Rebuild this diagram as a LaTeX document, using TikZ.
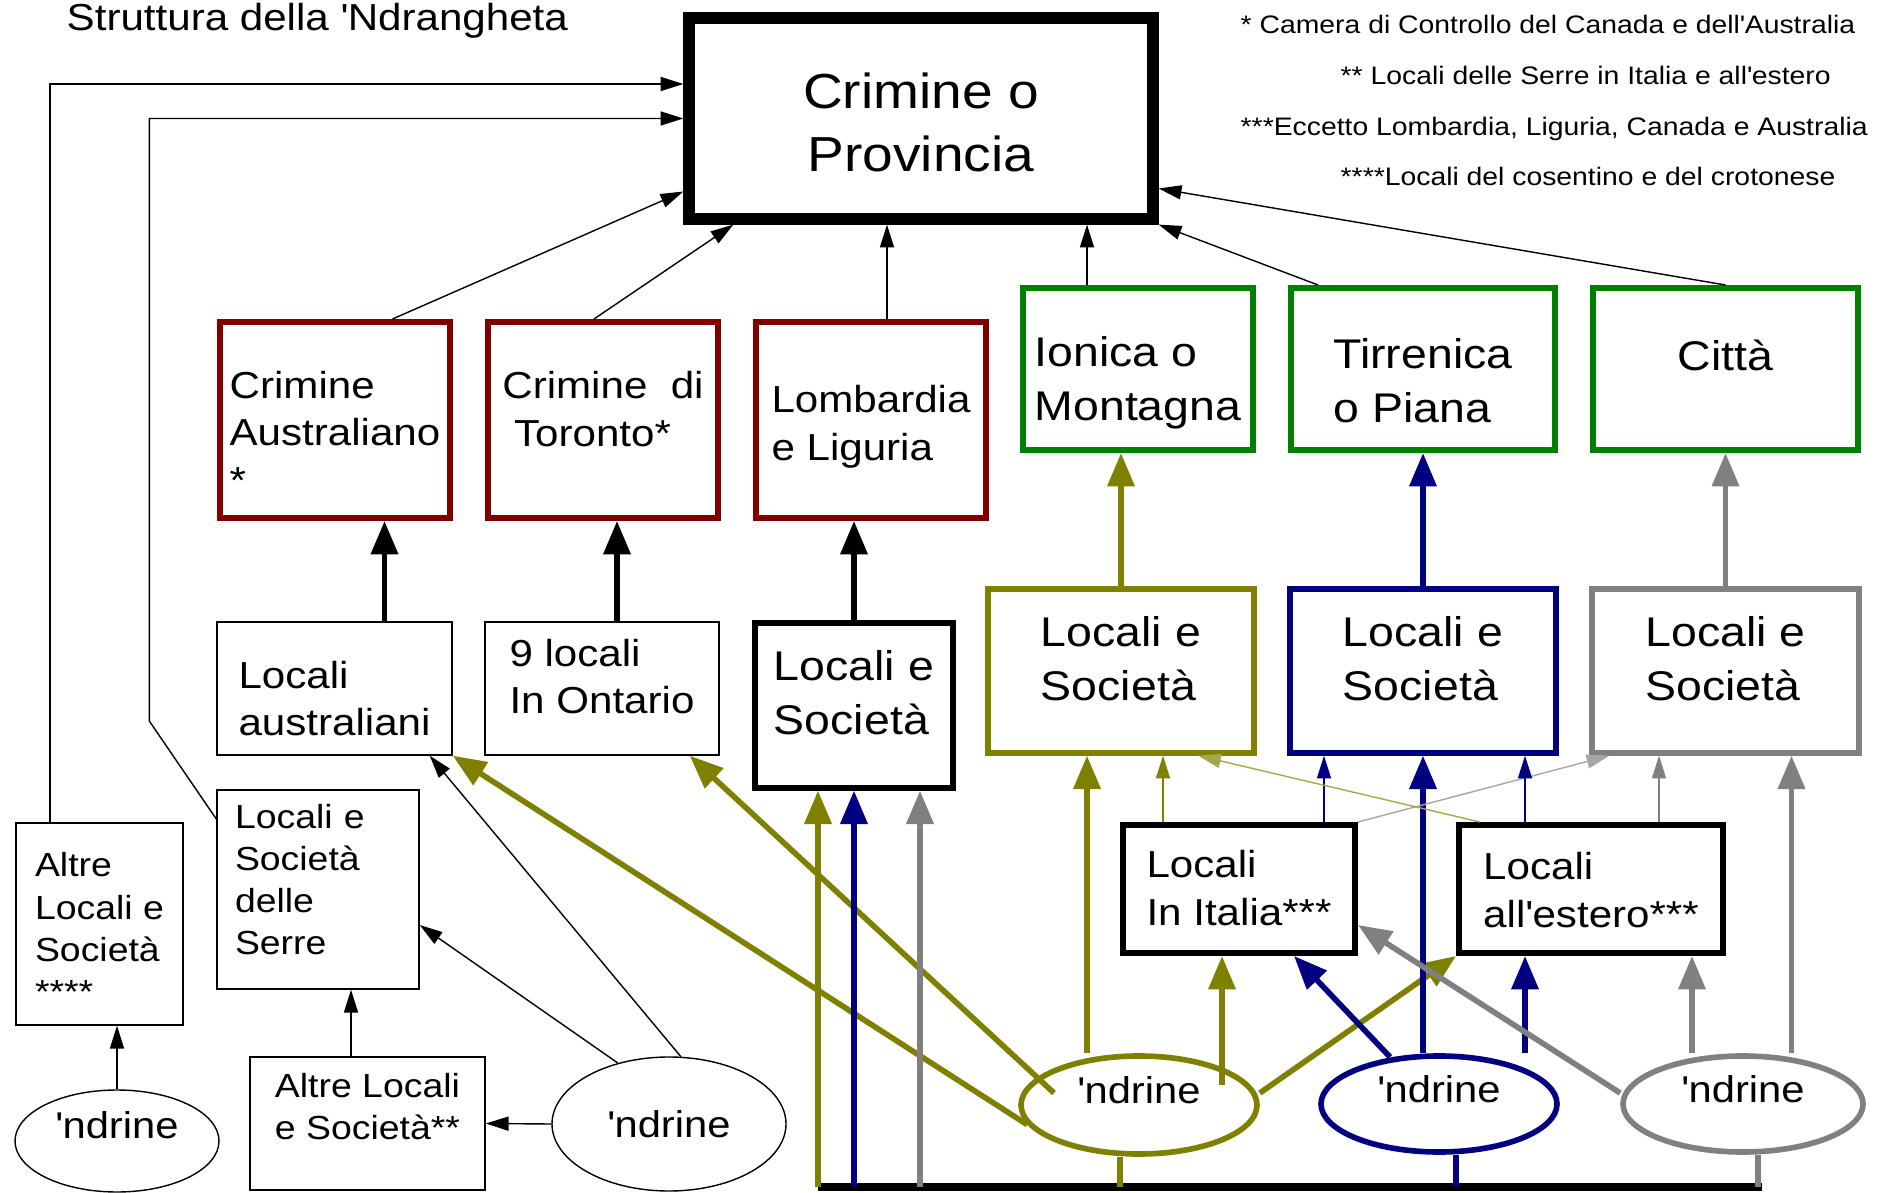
\documentclass[tikz,border=0pt]{standalone}
\usepackage{fontspec}
\setmainfont[FakeStretch=1.12]{Liberation Sans}
\usepackage{tikz}
\usetikzlibrary{positioning}
\usepackage{xcolor}
\usetikzlibrary{calc}
\usetikzlibrary{arrows.meta, shapes.geometric}

\definecolor{crimred}{RGB}{128,0,0}
\definecolor{mandgreen}{RGB}{0,128,0}
\definecolor{ionolive}{RGB}{128,128,0}
\definecolor{tirnavy}{RGB}{0,0,128}
\definecolor{citgray}{RGB}{128,128,128}
\newcommand{\ap}{\textquotesingle}

\tikzset{
  box/.style={draw, rectangle, align=left, inner sep=0pt},
  thinbox/.style={box, line width=0.4pt},
  redbox/.style={box, draw=crimred, line width=1.7pt},
  greenbox/.style={box, draw=mandgreen, line width=1.7pt},
  fcrim/.style={font=\fontsize{14pt}{18pt}\selectfont},
  fbig/.style={font=\fontsize{11.8pt}{15.3pt}\selectfont},
  fmed/.style={font=\fontsize{10.7pt}{13.5pt}\selectfont},
  fsmall/.style={font=\fontsize{9.5pt}{12pt}\selectfont},
  fnd/.style={font=\fontsize{10.6pt}{12pt}\selectfont},
  fleg/.style={font=\fontsize{7.2pt}{9pt}\selectfont, inner sep=0pt, anchor=base west},
  ndr/.style={ellipse, draw, inner sep=0pt},
  thinarr/.style={-{Triangle[length=6.5pt,width=4pt]}, line width=0.4pt},
  fatarr/.style={-{Triangle[length=9.5pt,width=7.5pt]}, line width=1.6pt}
}

\begin{document}
\begin{tikzpicture}[line join=miter]
    \useasboundingbox (0,0) rectangle (18.79,-11.93);

    % title and notes
    \node[font=\fontsize{10.7pt}{13pt}\selectfont, inner sep=0pt, anchor=base west] (title) at (0.66,-0.31) {Struttura della \ap Ndrangheta};
    \node[fleg] (leg1) at (12.40,-0.34) {* Camera di Controllo del Canada e dell\ap Australia};
    \node[fleg] (leg2) at (13.40,-0.85) {** Locali delle Serre in Italia e all\ap estero};
    \node[fleg] (leg3) at (12.40,-1.36) {***Eccetto Lombardia, Liguria, Canada e Australia};
    \node[fleg] (leg4) at (13.40,-1.86) {****Locali del cosentino e del crotonese};

    % top
    \node[box, line width=3.2pt, minimum width=4.64cm, minimum height=2.01cm,
          label={[fcrim, align=center, yshift=-0.04cm]center:Crimine o\\Provincia}] (crim) at (9.21,-1.185) {};

    % crimini and mandamenti
    \node[redbox, minimum width=2.30cm, minimum height=1.96cm,
          label={[fmed, align=left, yshift=-0.12cm]center:Crimine\\Australiano\\*}] (aus) at (3.35,-4.20) {};
    \node[redbox, minimum width=2.30cm, minimum height=1.96cm,
          label={[fmed, align=left, yshift=0.11cm]center:Crimine\ \ di\\\ Toronto*}] (tor) at (6.03,-4.20) {};
    \node[redbox, minimum width=2.30cm, minimum height=1.96cm,
          label={[fmed, align=left, yshift=-0.07cm]center:Lombardia\\e Liguria}] (lom) at (8.71,-4.20) {};
    \node[greenbox, minimum width=2.30cm, minimum height=1.62cm,
          label={[fbig, align=left, yshift=-0.14cm]center:Ionica o\\Montagna}] (ion) at (11.38,-3.69) {};
    \node[greenbox, minimum width=2.64cm, minimum height=1.62cm,
          label={[fbig, align=left, yshift=-0.12cm]center:Tirrenica\\o Piana}] (tir) at (14.23,-3.69) {};
    \node[greenbox, minimum width=2.65cm, minimum height=1.62cm,
          label={[fbig, yshift=0.14cm]center:Città}] (cit) at (17.255,-3.69) {};

    % locali
    \node[thinbox, minimum width=2.35cm, minimum height=1.33cm,
          label={[fmed, align=left, yshift=-0.10cm]center:Locali\\australiani}] (locaus) at (3.345,-6.885) {};
    \node[thinbox, minimum width=2.34cm, minimum height=1.33cm,
          label={[fmed, align=left, yshift=0.12cm]center:9 locali\\In Ontario}] (locont) at (6.02,-6.885) {};
    \node[box, line width=1.5pt, minimum width=1.98cm, minimum height=1.65cm,
          label={[fbig, align=left, yshift=0.13cm]center:Locali e\\Società}] (loclom) at (8.54,-7.055) {};
    \node[box, draw=ionolive, line width=1.5pt, minimum width=2.66cm, minimum height=1.64cm,
          label={[fbig, align=left, yshift=0.12cm]center:Locali e\\Società}] (locion) at (11.21,-6.71) {};
    \node[box, draw=tirnavy, line width=1.5pt, minimum width=2.66cm, minimum height=1.64cm,
          label={[fbig, align=left, yshift=0.12cm]center:Locali e\\Società}] (loctir) at (14.23,-6.71) {};
    \node[box, draw=citgray, line width=1.5pt, minimum width=2.67cm, minimum height=1.64cm,
          label={[fbig, align=left, yshift=0.12cm]center:Locali e\\Società}] (loccit) at (17.255,-6.71) {};

    \node[thinbox, minimum width=1.67cm, minimum height=2.02cm,
          label={[fsmall, align=left, yshift=-0.04cm]center:Altre\\Locali e\\Società\\****}] (altre) at (0.995,-9.24) {};
    \node[thinbox, minimum width=2.02cm, minimum height=1.99cm,
          label={[fsmall, align=left, text width=1.66cm, yshift=0.10cm]center:Locali e\\Società\\delle\\Serre}] (serre) at (3.18,-8.895) {};
    \node[thinbox, minimum width=2.35cm, minimum height=1.33cm,
          label={[fsmall, align=left, yshift=0.17cm]center:Altre Locali\\e Società**}] (altreser) at (3.675,-11.235) {};
    \node[box, line width=1.7pt, minimum width=2.32cm, minimum height=1.28cm,
          label={[fmed, align=left, yshift=0.01cm]center:Locali\\In Italia***}] (locita) at (12.39,-8.89) {};
    \node[box, line width=1.7pt, minimum width=2.64cm, minimum height=1.28cm,
          label={[fmed, align=left, yshift=-0.01cm]center:Locali\\all\ap estero***}] (locest) at (15.91,-8.89) {};

    % 'ndrine
    \node[ndr, line width=0.4pt, minimum width=2.04cm, minimum height=1.02cm,
          label={[fnd, yshift=0.16cm]center:\ap ndrine}] (ndr1) at (1.17,-11.41) {};
    \node[ndr, line width=0.4pt, minimum width=2.34cm, minimum height=1.34cm,
          label={[fnd]center:\ap ndrine}] (ndr2) at (6.69,-11.24) {};
    \node[ndr, draw=ionolive, line width=1.6pt, minimum width=2.36cm, minimum height=0.98cm,
          label={[fnd, yshift=0.15cm]center:\ap ndrine}] (ndr3) at (11.39,-11.05) {};
    \node[ndr, draw=tirnavy, line width=1.6pt, minimum width=2.36cm, minimum height=0.96cm,
          label={[fnd, yshift=0.15cm]center:\ap ndrine}] (ndr4) at (14.39,-11.04) {};
    \node[ndr, draw=citgray, line width=1.6pt, minimum width=2.40cm, minimum height=0.96cm,
          label={[fnd, yshift=0.15cm]center:\ap ndrine}] (ndr5) at (17.43,-11.04) {};

    % into the provincia
    \draw[thinarr] ([xshift=-0.495cm]altre.north) |- ([yshift=0.345cm]crim.west);
    \draw[thinarr] ([yshift=0.705cm]serre.west) -- ++(-0.67,0.98) |- (crim.west);
    \draw[thinarr] ([xshift=0.575cm]aus.north) -- ([yshift=-0.73cm]crim.west);
    \draw[thinarr] ([xshift=-0.09cm]tor.north) -- ([xshift=0.5cm]crim.south west);
    \draw[thinarr] ([xshift=0.16cm]lom.north) -- ([xshift=0.16cm]lom.north |- crim.south);
    \draw[thinarr] ([xshift=-0.51cm]ion.north) -- ([xshift=-0.51cm]ion.north |- crim.south);
    \draw[thinarr] ([xshift=-1.05cm]tir.north) -- (crim.south east);
    \draw[thinarr] (cit.north) -- ([yshift=-0.7cm]crim.east);

    % locali up to crimini / mandamenti
    \draw[fatarr] ([xshift=0.5cm]locaus.north) -- ([xshift=0.5cm]locaus.north |- aus.south);
    \draw[fatarr] ([xshift=0.15cm]locont.north) -- ([xshift=0.15cm]locont.north |- tor.south);
    \draw[fatarr] (loclom.north) -- (loclom.north |- lom.south);
    \draw[fatarr, ionolive] (locion.north) -- (locion.north |- ion.south);
    \draw[fatarr, tirnavy] (loctir.north) -- (loctir.north |- tir.south);
    \draw[fatarr, citgray] (loccit.north) -- (loccit.north |- cit.south);

    % serre side
    \draw[thinarr] (ndr1.north) -- (ndr1.north |- altre.south);
    \draw[thinarr] ([xshift=-0.165cm]altreser.north) -- ([xshift=-0.165cm]altreser.north |- serre.south);
    \draw[thinarr] (ndr2.west) -- (altreser.east);
    \draw[thinarr] (ndr2.130) -- ([yshift=-0.355cm]serre.east);
    \draw[thinarr] (ndr2.80) -- ([xshift=-0.23cm]locaus.south east);

    % ionica 'ndrine
    \draw[fatarr, ionolive] (ndr3.190) -- (locaus.south east);
    \draw[fatarr, ionolive] ($(ndr3.center)+(-0.85,0.12)$) -- ([xshift=-0.30cm]locont.south east);
    \draw[fatarr, ionolive] ([xshift=-0.34cm]locion.south |- ndr3.north) -- ([xshift=-0.34cm]locion.south);
    \draw[fatarr, ionolive] ([xshift=-0.17cm,yshift=-0.32cm]locita.south |- ndr3.north) -- ([xshift=-0.17cm]locita.south);
    \draw[fatarr, ionolive] ([yshift=0.12cm]ndr3.east) -- (locest.south west);

    % tirrenica 'ndrine
    \draw[fatarr, tirnavy] ($(ndr4.center)+(-0.49,0.47)$) -- ([xshift=0.55cm]locita.south);
    \draw[fatarr, tirnavy] (ndr4.north -| loctir.south) -- (loctir.south);
    \draw[fatarr, tirnavy] ([xshift=-0.66cm]locest.south |- ndr4.north) -- ([xshift=-0.66cm]locest.south);

    % citta 'ndrine
    \draw[fatarr, citgray] ([yshift=0.11cm]ndr5.west) -- ([yshift=-0.36cm]locita.east);
    \draw[fatarr, citgray] ([xshift=1.01cm]locest.south |- ndr5.north) -- ([xshift=1.01cm]locest.south);
    \draw[fatarr, citgray] ([xshift=0.66cm]loccit.south |- ndr5.north) -- ([xshift=0.66cm]loccit.south);

    % locali in italia / all'estero
    \draw[thinarr, ionolive] ([xshift=-0.76cm]locita.north) -- ([xshift=-0.76cm]locita.north |- locion.south);
    \draw[thinarr, tirnavy] ([xshift=0.85cm]locita.north) -- ([xshift=0.85cm]locita.north |- loctir.south);
    \draw[thinarr, citgray!70] (locita.north east) -- ([xshift=0.2cm]loccit.south west);
    \draw[thinarr, ionolive!70] ([xshift=0.24cm]locest.north west) -- ([xshift=0.77cm]locion.south);
    \draw[thinarr, tirnavy] ([xshift=-0.66cm]locest.north) -- ([xshift=-0.66cm]locest.north |- loctir.south);
    \draw[thinarr, citgray] ([xshift=0.68cm]locest.north) -- ([xshift=0.68cm]locest.north |- loccit.south);

    % bottom bus into lombardia
    \coordinate (busL) at (8.18,-11.87);
    \coordinate (busR) at (17.62,-11.87);
    \draw[line width=2.4pt] (busL) -- (busR);
    \draw[line width=1.6pt, ionolive] ([xshift=-0.19cm]ndr3.south) -- ([xshift=-0.19cm]ndr3.south |- busL);
    \draw[line width=1.6pt, tirnavy] ([xshift=0.17cm]ndr4.south) -- ([xshift=0.17cm]ndr4.south |- busL);
    \draw[line width=1.6pt, citgray] ([xshift=0.15cm]ndr5.south) -- ([xshift=0.15cm]ndr5.south |- busL);
    \draw[fatarr, ionolive] (busL) -- (busL |- loclom.south);
    \draw[fatarr, tirnavy] ([xshift=0.36cm]busL) -- ([xshift=0.36cm]busL |- loclom.south);
    \draw[fatarr, citgray] ([xshift=1.02cm]busL) -- ([xshift=1.02cm]busL |- loclom.south);
\end{tikzpicture}
\end{document}
